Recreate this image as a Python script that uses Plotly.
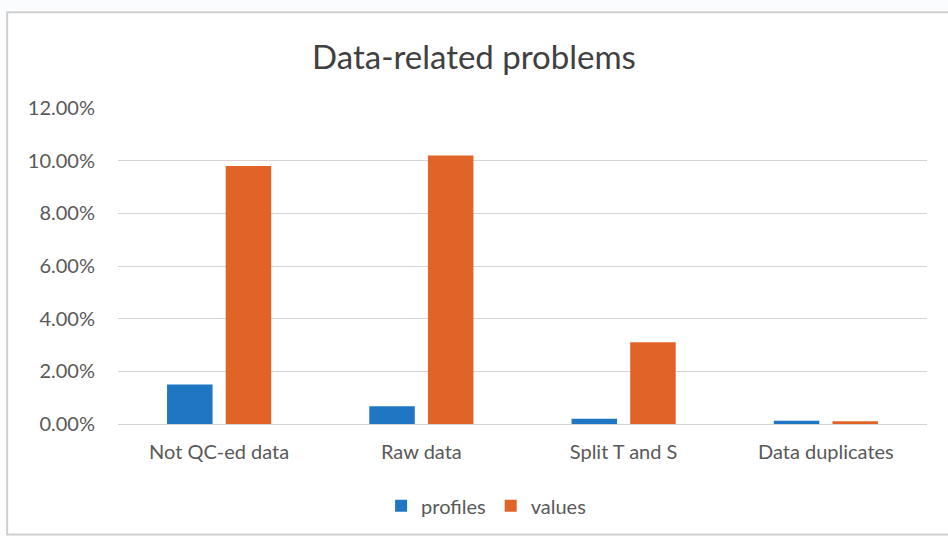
import plotly.graph_objects as go

# Share of affected profiles and values per data problem
categories = ["Not QC-ed data", "Raw data", "Split T and S", "Data duplicates"]
profiles = [0.015, 0.0067, 0.002, 0.0012]
values = [0.098, 0.102, 0.031, 0.001]
y_ticks = [0, 0.02, 0.04, 0.06, 0.08, 0.10, 0.12]

fig = go.Figure()
fig.add_trace(go.Bar(name="profiles", x=categories, y=profiles,
                     marker=dict(color="#1f77c4", line=dict(width=0))))
fig.add_trace(go.Bar(name="values", x=categories, y=values,
                     marker=dict(color="#e06427", line=dict(width=0))))

font_family = "Lato, 'Open Sans', sans-serif"
fig.update_layout(
    width=948, height=536,
    barmode="group", bargap=0.42, bargroupgap=0.224,
    paper_bgcolor="#fbfcfd", plot_bgcolor="white",
    margin=dict(l=118, r=21, t=108, b=111),
    title=dict(text="Data-related problems", x=0.5, xanchor="center",
               y=0.893, yanchor="middle",
               font=dict(family=font_family, size=33, color="#404040")),
    font=dict(family=font_family, size=20, color="#595959"),
    xaxis=dict(showgrid=False, showline=False, ticks="",
               ticklabelstandoff=14,
               tickfont=dict(size=20, color="#595959")),
    yaxis=dict(range=[0, 0.12], tickvals=y_ticks, tickformat=".2%",
               showgrid=True, gridcolor="#d9d4d0", gridwidth=1,
               zeroline=True, zerolinecolor="#d9d4d0", zerolinewidth=1,
               ticks="", ticklabelstandoff=22,
               tickfont=dict(size=20, color="#595959")),
    legend=dict(orientation="h", x=0.455, xanchor="center", y=-0.255,
                yanchor="middle", font=dict(size=20, color="#595959"),
                bgcolor="rgba(0,0,0,0)", itemwidth=30, traceorder="normal"),
    shapes=[dict(type="rect", xref="paper", yref="paper",
                 x0=-0.137, x1=1.05, y0=-0.35, y1=1.303,
                 line=dict(color="#cfcfcf", width=2),
                 fillcolor="white", layer="below")],
)

fig.write_html("out.html")
